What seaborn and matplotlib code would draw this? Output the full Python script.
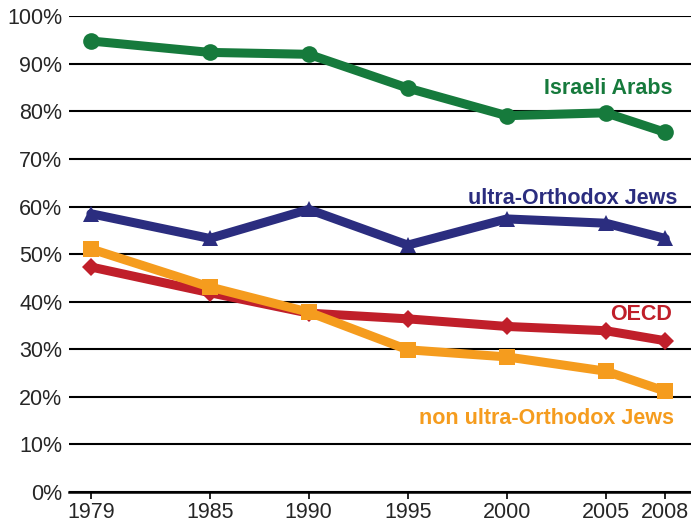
import numpy as np
import pandas as pd
import matplotlib
matplotlib.use("Agg")
import matplotlib.pyplot as plt
from matplotlib.ticker import FuncFormatter
import seaborn as sns

years = [1979, 1985, 1990, 1995, 2000, 2005, 2008]
israeli_arabs = [94.8, 92.4, 92.0, 84.9, 79.1, 79.7, 75.6]
ultra_orthodox = [58.5, 53.3, 59.4, 51.9, 57.4, 56.5, 53.3]
oecd = [47.3, 41.9, 37.6, 36.4, 34.8, 33.9, 31.8]
non_ultra_orthodox = [51.1, 43.1, 37.8, 29.9, 28.4, 25.4, 21.2]

series = ["Israeli Arabs", "ultra-Orthodox Jews", "OECD", "non ultra-Orthodox Jews"]
colors = ["#167a3c", "#2b2d7f", "#c01f2a", "#f59c1e"]
markers = ["o", "^", "D", "s"]
sizes = [12, 12, 9, 12]

df = pd.DataFrame({
    "year": years * 4,
    "value": israeli_arabs + ultra_orthodox + oecd + non_ultra_orthodox,
    "group": np.repeat(series, len(years)),
})

sns.set_style("white")
plt.rcParams["font.family"] = ["Liberation Sans", "DejaVu Sans"]

fig = plt.figure(figsize=(6.91, 5.24), dpi=100)
ax = fig.add_axes([0.1, 0.061, 0.9, 0.908])

for name, col, mk, ms in zip(series, colors, markers, sizes):
    sub = df[df["group"] == name]
    sns.lineplot(data=sub, x="year", y="value", color=col, marker=mk,
                 markersize=ms, markeredgewidth=0, linewidth=6.5, ax=ax,
                 legend=False, zorder=3)

ax.set_xlim(1977.9, 2009.3)
ax.set_ylim(0, 100)
ax.set_yticks(range(0, 101, 10))
ax.yaxis.set_major_formatter(FuncFormatter(lambda v, p: f"{int(v)}%"))
ax.set_xticks(years)
ax.set_xlabel("")
ax.set_ylabel("")
ax.grid(axis="y", color="black", linewidth=1.5)
ax.grid(axis="x", visible=False)
for s in ["top", "right", "left"]:
    ax.spines[s].set_visible(False)
ax.spines["bottom"].set_color("black")
ax.spines["bottom"].set_linewidth(1.8)
ax.tick_params(axis="y", length=0, pad=5, labelsize=15.5)
ax.tick_params(axis="x", length=5, width=1.2, color="black", direction="out",
               bottom=True, pad=2, labelsize=15.5)

label_y = [84.8, 61.7, 37.3, 15.5]
label_x = [2008.35, 2008.6, 2008.35, 2008.45]
for name, col, lx, ly in zip(series, colors, label_x, label_y):
    ax.text(lx, ly, name, color=col, fontsize=15.5, fontweight="bold",
            ha="right", va="center")

fig.savefig("out.png", dpi=100)
